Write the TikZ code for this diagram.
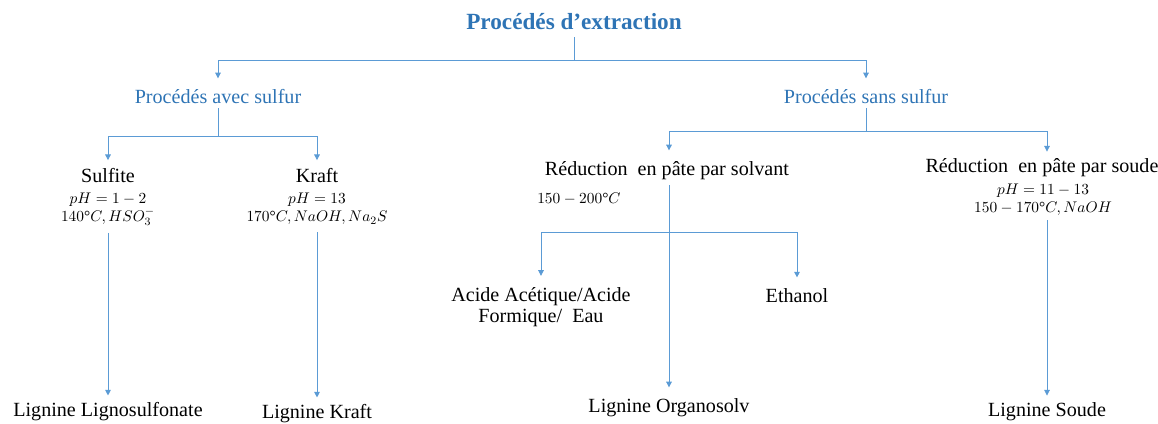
\documentclass[tikz,border=0pt]{standalone}
\usepackage{fontspec}
\setmainfont{Liberation Serif}
\usetikzlibrary{arrows.meta}
\definecolor{titleblue}{HTML}{2E74B5}
\definecolor{lineblue}{HTML}{5B9BD5}
\begin{document}
\begin{tikzpicture}[x=0.025cm,y=-0.025cm]
        \tikzset{lbl/.style={font=\fontsize{14.3}{15}\selectfont,inner sep=0pt,align=center},
            head/.style={lbl,text=titleblue},
            cond/.style={font=\fontsize{11}{13}\selectfont,inner sep=0pt,align=center},
            link/.style={draw=lineblue,line width=0.6pt},
            arr/.style={link,-{Triangle[width=4pt,length=4pt]}}}
        \useasboundingbox (0,0) rectangle (1158,423);
        % niveaux du haut
        \node[head,font=\bfseries\fontsize{16.5}{18}\selectfont] (titre) at (574,22) {Procédés d'extraction};
        \node[head] (avec) at (218,97) {Procédés avec sulfur};
        \node[head] (sans) at (866,97) {Procédés sans sulfur};
        % procédés
        \node[lbl] (sulfite) at (108,176) {Sulfite};
        \node[cond] (sulfitec) at (108,209) {$pH=1-2$\\$140$°$C,HSO_3^-$};
        \node[lbl] (kraft) at (317,176) {Kraft};
        \node[cond] (kraftc) at (317,209) {$pH=13$\\$170$°$C,NaOH,Na_2S$};
        \node[lbl] (solvant) at (667,171) {Réduction\ \ en pâte par solvant};
        \node[cond,anchor=west] (solvantc) at (537,199) {$150-200$°$C$};
        \node[lbl] (soude) at (1042,168) {Réduction\ \ en pâte par soude};
        \node[cond] (soudec) at (1043,200) {$pH=11-13$\\$150-170$°$C,NaOH$};
        \node[lbl] (acide) at (541,307) {Acide Acétique/Acide\\Formique/\ \ Eau};
        \node[lbl] (ethanol) at (797,296) {Ethanol};
        % lignines
        \node[lbl] (lls) at (108,412) {Lignine Lignosulfonate};
        \node[lbl] (lkraft) at (317,414) {Lignine Kraft};
        \node[lbl] (lorg) at (669,408) {Lignine Organosolv};
        \node[lbl] (lsoude) at (1047,412) {Lignine Soude};
        % jonctions
        \coordinate (j1) at (574,60);
        \coordinate (j2) at (218,136);
        \coordinate (j3) at (866,131);
        \coordinate (j4) at (669,232);
        % connecteurs
        \foreach \cible in {avec,sans}
            \draw[arr,shorten >=8pt] (titre.south) ++(0,7) -- (j1) -| (\cible.north);
        \foreach \cible in {sulfite,kraft}
            \draw[arr,shorten >=6pt] (avec.south) ++(0,4) -- (j2) -| (\cible.north);
        \draw[arr,shorten >=8pt] (sans.south) ++(0,4) -- (j3) -| (lorg.north |- solvant.north);
        \draw[arr,shorten >=5pt] (j3) -| (lsoude.north |- soude.north);
        \draw[arr,shorten >=5pt] (lls.north |- sulfitec.south) ++(0,7) -- (lls.north);
        \draw[arr,shorten >=5pt] (lkraft.north |- kraftc.south) ++(0,7) -- (lkraft.north);
        \draw[arr,shorten >=8pt] (lorg.north |- solvant.south) ++(0,5) -- (lorg.north);
        \draw[arr,shorten >=5pt] (lsoude.north |- soudec.south) ++(0,4) -- (lsoude.north);
        \foreach \cible in {acide,ethanol}
            \draw[arr,shorten >=8pt] (j4) -| (\cible.north);
    \end{tikzpicture}
\end{document}
